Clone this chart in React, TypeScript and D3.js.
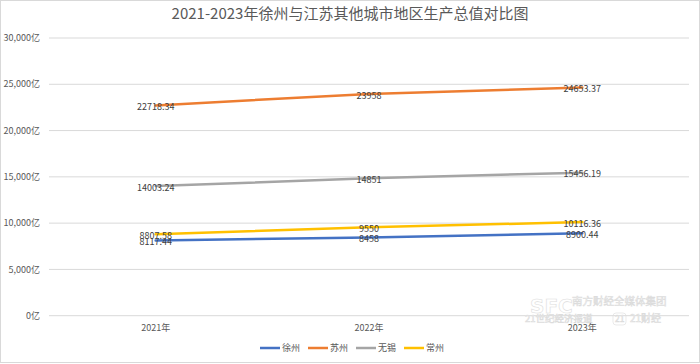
import React from "react";
import * as d3 from "d3";

const width = 700,
  height = 364;

const years = ["2021年", "2022年", "2023年"];
const cities = ["徐州", "苏州", "无锡", "常州"];
const xuzhou = [8117.44, 8458, 8900.44];
const suzhou = [22718.34, 23958, 24653.37];
const wuxi = [14003.24, 14851, 15456.19];
const changzhou = [8807.58, 9550, 10116.36];
const yTicks = [0, 5000, 10000, 15000, 20000, 25000, 30000];
const colors = ["#4472C4", "#ED7D31", "#A5A5A5", "#FFC000"];

const series = [xuzhou, suzhou, wuxi, changzhou];
const FONT = "'Noto Sans CJK SC', 'Noto Sans', sans-serif";

const App = () => {
  const x = d3.scaleBand().domain(years).range([49, 689]).padding(0);
  const y = d3.scaleLinear().domain([0, 30000]).range([315.7, 38]);
  const fmt = d3.format(",d");

  const line = d3
    .line<number>()
    .x((d, i) => x(years[i])! + x.bandwidth() / 2)
    .y((d) => y(d));

  // legend layout
  const legendX = [260, 308, 356, 404];

  return (
    <svg
      width={width}
      height={height}
      style={{ position: "absolute", left: 0, top: 0, background: "#fff" }}
      fontFamily={FONT}
    >
      <rect x={0.5} y={0.5} width={width - 1} height={height - 2} fill="#fff" stroke="#d9d9d9" />
      <text x={350} y={19} textAnchor="middle" fontSize={15} fill="#595959">
        2021-2023年徐州与江苏其他城市地区生产总值对比图
      </text>

      {/* gridlines + y labels */}
      <g>
        {yTicks.map((t) => (
          <g key={t}>
            <line x1={49} x2={689} y1={y(t)} y2={y(t)} stroke="#d9d9d9" strokeWidth={1} />
            <text
              x={40}
              y={y(t)}
              dy="0.35em"
              textAnchor="end"
              fontSize={9}
              fill="#595959"
            >
              {fmt(t)}亿
            </text>
          </g>
        ))}
      </g>

      {/* watermark */}
      <g fill="#ffffff" stroke="#dcdcdc" strokeWidth={0.6}>
        <text x={530} y={313} fontSize={20} fontWeight="bold" fontFamily="'DejaVu Sans', sans-serif">
          SFC
        </text>
        <text x={572} y={305} fontSize={10.5}>南方财经全媒体集团</text>
        <text x={525} y={322} fontSize={9.5}>21世纪经济报道</text>
        <rect x={613} y={313} width={13} height={12} rx={3} fill="none" />
        <text x={615} y={322} fontSize={8.5}>21</text>
        <text x={630} y={322} fontSize={10}>21财经</text>
      </g>

      {/* x labels */}
      {years.map((yr) => (
        <text
          key={yr}
          x={x(yr)! + x.bandwidth() / 2}
          y={331}
          textAnchor="middle"
          fontSize={9}
          fill="#595959"
        >
          {yr}
        </text>
      ))}

      {/* lines */}
      {series.map((s, i) => (
        <path
          key={cities[i]}
          d={line(s)!}
          fill="none"
          stroke={colors[i]}
          strokeWidth={2.5}
          strokeLinecap="round"
        />
      ))}

      {/* data labels */}
      {series.map((s, i) =>
        s.map((v, j) => (
          <text
            key={`${i}-${j}`}
            x={x(years[j])! + x.bandwidth() / 2}
            y={y(v) + 1.5}
            dy="0.35em"
            textAnchor="middle"
            fontSize={9}
            fill="#404040"
          >
            {v}
          </text>
        ))
      )}

      {/* legend */}
      {cities.map((c, i) => (
        <g key={c} transform={`translate(${legendX[i]},348)`}>
          <line x1={0} x2={20} y1={0} y2={0} stroke={colors[i]} strokeWidth={2.5} />
          <text x={22} y={0} dy="0.35em" fontSize={9} fill="#595959">
            {c}
          </text>
        </g>
      ))}
    </svg>
  );
};

export default App;
